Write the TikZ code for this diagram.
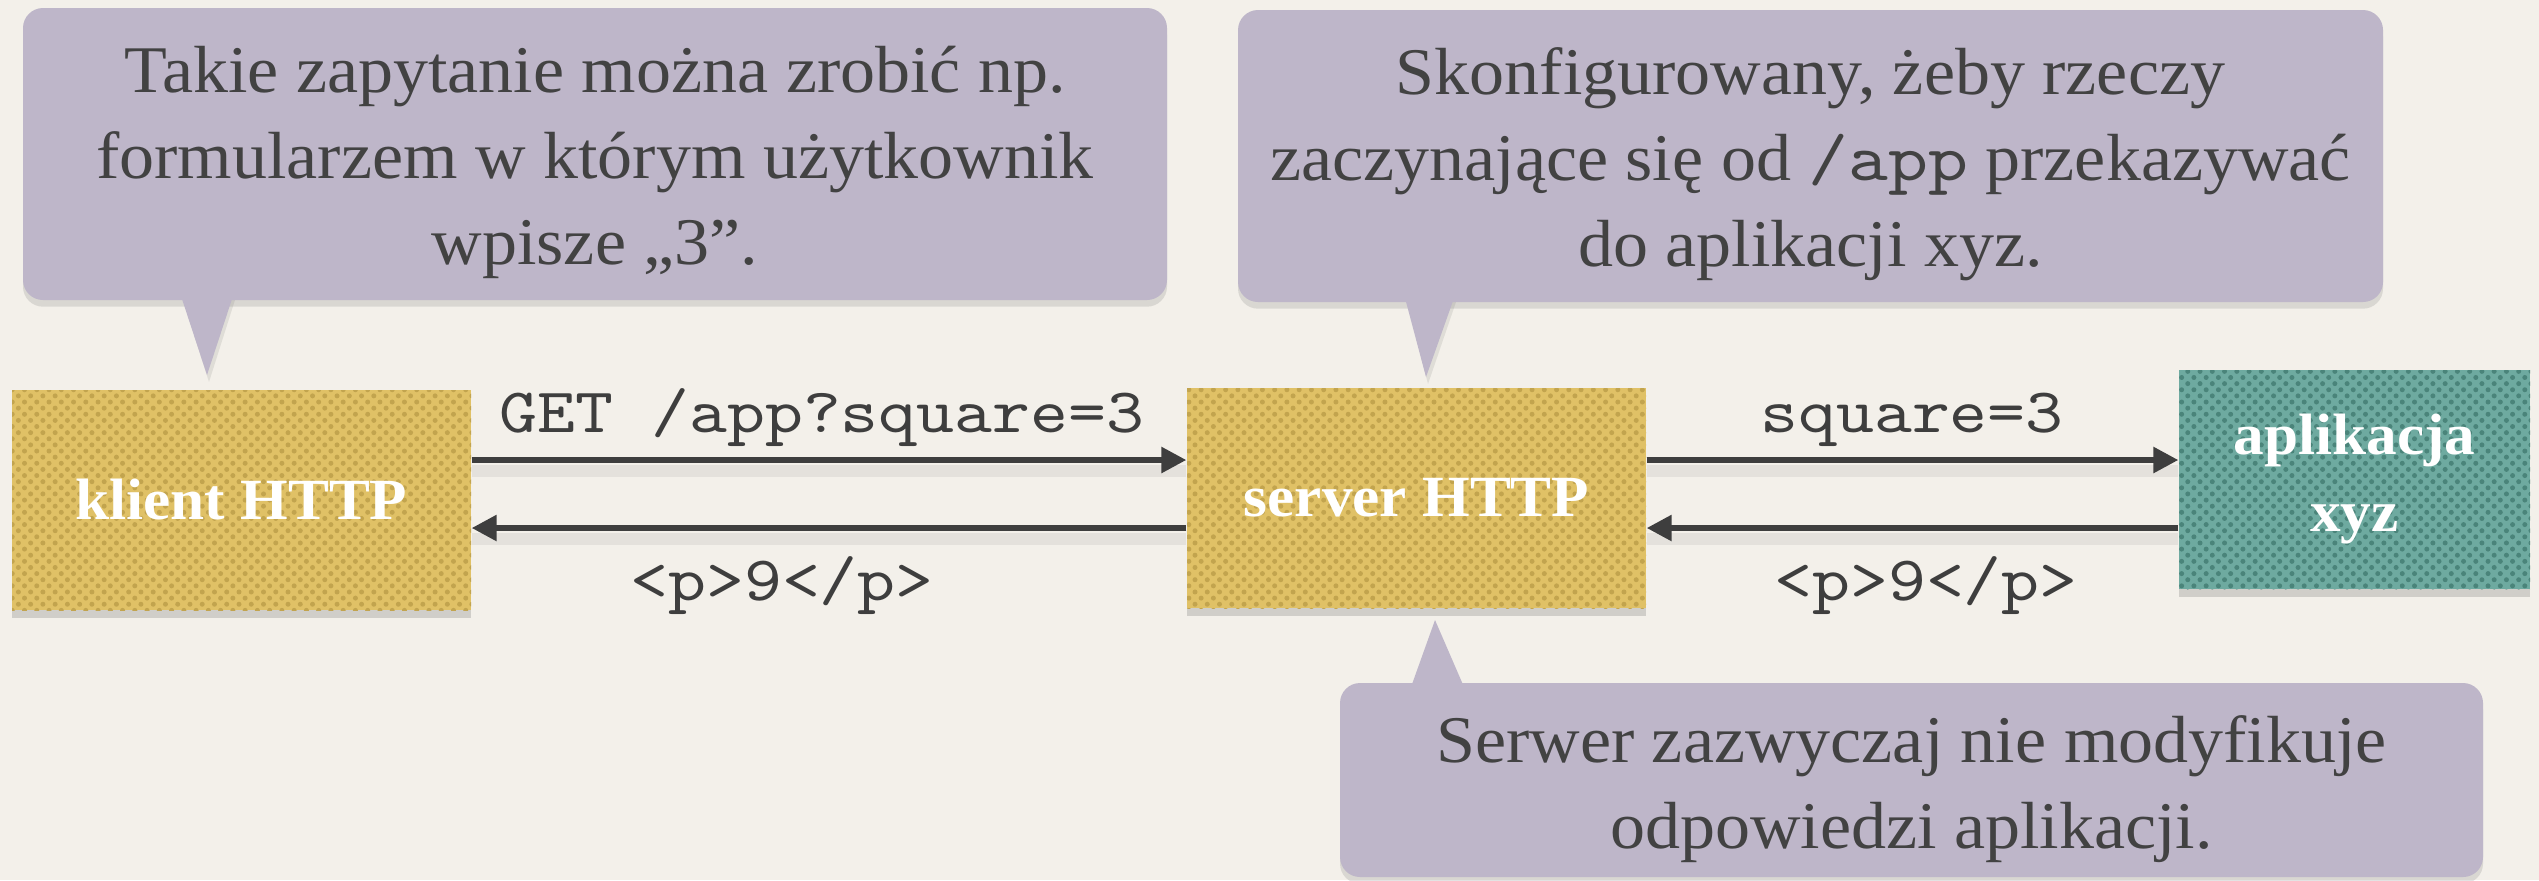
\documentclass[tikz,border=0pt]{standalone}
\usepackage{fontspec}
\setmainfont[FakeStretch=1.05]{Liberation Serif}
\setmonofont[FakeStretch=1.14]{lmmono10-regular.otf}
\usetikzlibrary{arrows.meta,shadows,patterns.meta,calc}

\definecolor{paper}{RGB}{243,240,234}
\definecolor{bubblefill}{RGB}{190,182,201}
\definecolor{bubbletext}{RGB}{66,66,66}
\definecolor{goldfill}{RGB}{224,193,102}
\definecolor{golddot}{RGB}{194,164,78}
\definecolor{appfill}{RGB}{110,170,160}
\definecolor{appdot}{RGB}{74,132,122}
\definecolor{flowgray}{RGB}{62,62,62}

\tikzset{
  bubble/.style={rectangle, rounded corners=6pt, fill=bubblefill, inner sep=0pt,
    drop shadow={shadow xshift=0pt, shadow yshift=-2pt, opacity=0.22}},
  bubblecopy/.style={inner sep=0pt, text=bubbletext, align=center,
    font=\fontsize{20}{25.8}\selectfont, yshift=-2.6pt},
  bubbletail/.style={fill=bubblefill},
  tailshade/.style={fill=black, opacity=0.08},
  proc/.style={rectangle, inner sep=0pt, text=white, align=center,
    font=\fontsize{17.5}{23.1}\selectfont\bfseries,
    drop shadow={shadow xshift=0pt, shadow yshift=-2.4pt, opacity=0.3}},
  goldbox/.style={proc, fill=goldfill,
    postaction={pattern={Dots[distance=2.6pt, angle=45, radius=0.75pt]}, pattern color=golddot}},
  appbox/.style={proc, fill=appfill,
    postaction={pattern={Dots[distance=2.6pt, angle=45, radius=0.75pt]}, pattern color=appdot}},
  flow/.style={draw=flowgray, line width=1.7pt, -{Triangle[length=7.5pt, width=7.5pt]}},
  flowshade/.style={draw=black, opacity=0.06, line width=3.5pt},
  msg/.style={anchor=base, inner sep=0pt, text=flowgray, font=\fontsize{19}{22}\ttfamily},
}

\begin{document}
\begin{tikzpicture}[x=0.3pt, y=-0.3pt]
  % paper background
  \fill[paper] (0,0) rectangle (2539,880);
  \useasboundingbox (0,0) rectangle (2539,880);

  % speech bubble tails (shadow first)
  \fill[tailshade] (183,300) -- (209,382) -- (235,300) -- cycle;
  \fill[tailshade] (1407,302) -- (1428,384) -- (1456,302) -- cycle;

  % callouts
  \node[bubble, minimum width=343.2pt, minimum height=87.6pt] (c1) at (595,154) {};
  \node[bubble, minimum width=343.5pt, minimum height=87.6pt] (c2) at (1810.5,156) {};
  \node[bubble, minimum width=342.9pt, minimum height=58.2pt] (c3) at (1911.5,780) {};

  \fill[bubbletail] (181,296) -- (207,375) -- (233,296) -- cycle;
  \fill[bubbletail] (1405,298) -- (1426,377) -- (1454,298) -- cycle;
  \fill[bubbletail] (1411,687) -- (1435,620) -- (1464,687) -- cycle;

  \node[bubblecopy] (t1) at (c1) {Takie zapytanie można zrobić np.\\ formularzem w którym użytkownik\\ wpisze „3”.};
  \node[bubblecopy] (t2) at (c2) {Skonfigurowany, żeby rzeczy\\ zaczynające się od {\ttfamily /app} przekazywać\\ do aplikacji xyz.};
  \node[bubblecopy] (t3) at (c3) {Serwer zazwyczaj nie modyfikuje\\ odpowiedzi aplikacji.};

  % participants
  \node[goldbox, minimum width=137.7pt, minimum height=66pt] (klient) at (241.5,500) {klient HTTP};
  \node[goldbox, minimum width=137.7pt, minimum height=66pt] (server) at (1416.5,498) {server HTTP};
  \node[appbox, minimum width=105.3pt, minimum height=65.7pt] (app) at (2354.5,479.5) {aplikacja\\ xyz};

  % request / response levels
  \coordinate (ytop) at (0,460);
  \coordinate (ybot) at (0,528);
  \coordinate (ytopsh) at (0,471);
  \coordinate (ybotsh) at (0,539);

  % soft shading under the connectors
  \draw[flowshade] (klient.east |- ytopsh) -- (server.west |- ytopsh);
  \draw[flowshade] (klient.east |- ybotsh) -- (server.west |- ybotsh);
  \draw[flowshade] (server.east |- ytopsh) -- (app.west |- ytopsh);
  \draw[flowshade] (server.east |- ybotsh) -- (app.west |- ybotsh);

  % connectors
  \draw[flow] (klient.east |- ytop) -- (server.west |- ytop);
  \draw[flow] (server.west |- ybot) -- (klient.east |- ybot);
  \draw[flow] (server.east |- ytop) -- (app.west |- ytop);
  \draw[flow] (app.west |- ybot) -- (server.east |- ybot);

  % messages
  \node[msg] (req1) at (822,432) {GET /app?square=3};
  \node[msg] (res1) at (782,600) {<p>9</p>};
  \node[msg] (req2) at (1912,432) {square=3};
  \node[msg] (res2) at (1926,600) {<p>9</p>};
\end{tikzpicture}
\end{document}
